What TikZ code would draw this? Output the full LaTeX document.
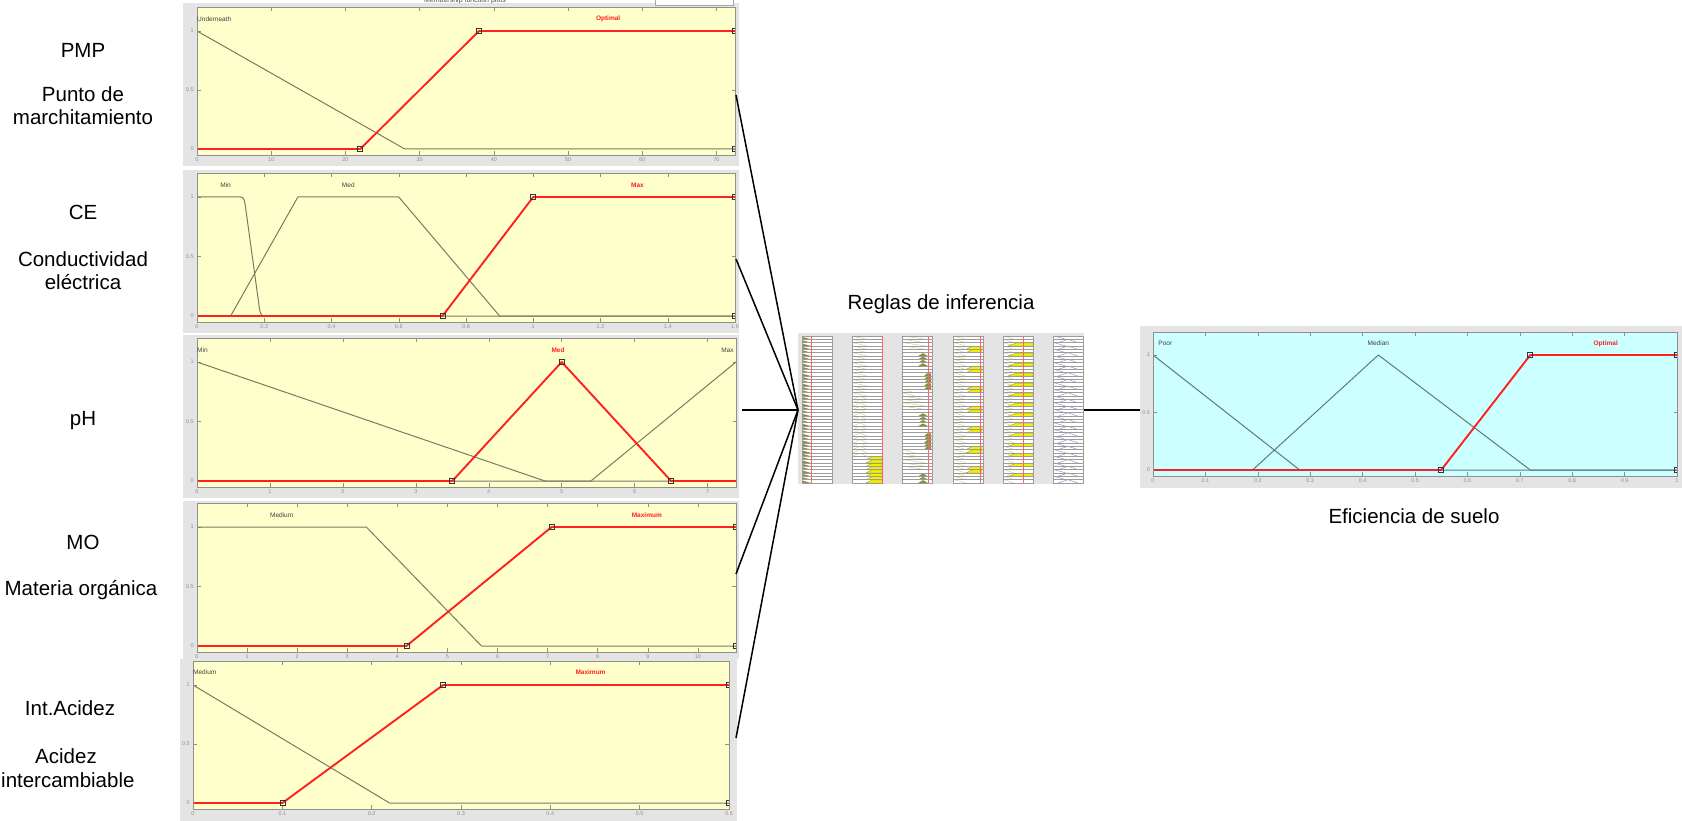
\documentclass[tikz,border=0pt]{standalone}
\usepackage{fontspec}
\setmainfont{Liberation Sans}
\definecolor{figgray}{HTML}{E4E4E4}
\definecolor{axyellow}{HTML}{FFFFCC}
\definecolor{axcyan}{HTML}{CCFFFF}
\definecolor{mfred}{HTML}{FF2020}
\definecolor{tickgray}{HTML}{8F8F8F}
\definecolor{mfgray}{HTML}{7A7A62}
\definecolor{mfgrayc}{HTML}{5F7A7A}
\definecolor{ruleolive}{HTML}{8E8E3A}
\definecolor{rulepale}{HTML}{D2D2A0}
\definecolor{ruleyellow}{HTML}{F5F000}
\definecolor{ruleblue}{HTML}{9A9ACF}
\definecolor{rowgray}{HTML}{9C9C9C}
\tikzset{
  lbl/.style={font=\fontsize{20.5}{24}\selectfont, inner sep=0pt, anchor=base},
  figbg/.style={fill=figgray, draw=none, inner sep=0pt, outer sep=0pt},
  axbox/.style={draw=tickgray, line width=0.5pt},
  tick/.style={draw=tickgray, line width=0.5pt},
  ticklbl/.style={font=\fontsize{5.5}{6}\selectfont, text=tickgray, inner sep=0pt},
  mflbl/.style={font=\fontsize{6.5}{7}\selectfont, inner sep=0pt, text=black!75},
  mfsel/.style={font=\bfseries\fontsize{6.5}{7}\selectfont, inner sep=0pt, text=mfred},
  mfline/.style={draw=mfgray, line width=1pt, line join=round},
  mflinec/.style={draw=mfgrayc, line width=1pt, line join=round},
  mfredline/.style={draw=mfred, line width=1.9pt, line join=round},
  vmark/.style={draw=black!80, line width=0.6pt},
  link/.style={draw=black, line width=1.5pt},
  rowline/.style={draw=rowgray, line width=0.8pt},
  rulered/.style={draw=mfred!70, line width=0.5pt},
}
% axes of one membership-function plot: #1 x max, #2 fill, #3 x ticks, #4 name prefix
\newcommand\mfaxes[4]{%
  \fill[#2] (0,-0.05) rectangle (#1,1.2);
  \foreach \t/\l [count=\i] in {#3}{%
    \draw[tick] (\t,-0.05) -- ++(0pt,3.5pt);
    \draw[tick] (\t,1.2) -- ++(0pt,-3.5pt);
    \node[ticklbl, anchor=north] (#4x\i) at ([yshift=-2.5pt]\t,-0.05) {\l};
  }%
  \foreach \v/\l [count=\i] in {0/0,0.5/0.5,1/1}{%
    \draw[tick] (0,\v) -- ++(3.5pt,0pt);
    \draw[tick] (#1,\v) -- ++(-3.5pt,0pt);
    \node[ticklbl, anchor=east] (#4y\i) at ([xshift=-3pt]0,\v) {\l};
  }%
}
% square vertex marker
\newcommand\vmk[1]{\draw[vmark] ([xshift=-2.5pt,yshift=-2.5pt]#1) rectangle ++(5pt,5pt);}
\begin{document}
\begin{tikzpicture}[x=1pt,y=-1pt]
\useasboundingbox (0,0) rectangle (1682,821);
\fill[white] (0,0) rectangle (1682,821);

% ---------- input variable names ----------
\node[lbl] (nPMP) at (83,58) {PMP};
\node[lbl] (nPMPa) at (83,102) {Punto de};
\node[lbl] (nPMPb) at (83,125) {marchitamiento};
\node[lbl] (nCE) at (83,220) {CE};
\node[lbl] (nCEa) at (83,266) {Conductividad};
\node[lbl] (nCEb) at (83,290) {eléctrica};
\node[lbl] (npH) at (83,425) {pH};
\node[lbl] (nMO) at (83,549) {MO};
\node[lbl] (nMOa) at (81,595) {Materia orgánica};
\node[lbl] (nIA) at (70,715) {Int.Acidez};
\node[lbl] (nIAa) at (66,763) {Acidez};
\node[lbl, anchor=base west] (nIAb) at (1,787) {intercambiable};

% ---------- panel 1: PMP ----------
\node[figbg, minimum width=556pt, minimum height=163pt] (pan1) at (461,84.5) {};
\node[font=\fontsize{7}{8}\selectfont, text=black!70, inner sep=0pt] (pan1t) at (465,1) {Membership function plots};
\draw[draw=black!35, fill=white, line width=0.5pt] (655,-3) rectangle (733,5);
\begin{scope}[shift={(197,149)}, x=7.4207pt, y=118pt]
  \mfaxes{72.5}{axyellow}{0/0,10/10,20/20,30/30,40/40,50/50,60/60,70/70}{pa}
  \begin{scope}
    \clip (0,-0.05) rectangle (72.5,1.2);
    \draw[mfline] (0,1) -- (28,0) -- (72.5,0);
    \draw[mfredline] (0,0) -- (22,0) -- (38,1) -- (72.5,1);
    \vmk{22,0} \vmk{38,1} \vmk{72.5,1} \vmk{72.5,0}
  \end{scope}
  \draw[axbox] (0,-0.05) rectangle (72.5,1.2);
  \node[mflbl, anchor=west] (pa1) at (0,1.1) {Underneath};
  \node[mfsel] (pa2) at (55.4,1.1) {Optimal};
\end{scope}

% ---------- panel 2: CE ----------
\node[figbg, minimum width=556pt, minimum height=163pt] (pan2) at (461,251.5) {};
\begin{scope}[shift={(197,316)}, x=336.25pt, y=119pt]
  \mfaxes{1.6}{axyellow}{0/0,0.2/0.2,0.4/0.4,0.6/0.6,0.8/0.8,1/1,1.2/1.2,1.4/1.4,1.6/1.6}{pb}
  \begin{scope}
    \clip (0,-0.05) rectangle (1.6,1.2);
    \draw[mfline] (0,1) -- (0.13,1) .. controls (0.14,1) and (0.142,0.97) .. (0.145,0.9)
      -- (0.183,0.12) .. controls (0.187,0.02) and (0.19,0) .. (0.2,0) -- (1.6,0);
    \draw[mfline] (0,0) -- (0.1,0) -- (0.3,1) -- (0.6,1) -- (0.9,0) -- (1.6,0);
    \draw[mfredline] (0,0) -- (0.73,0) -- (1,1) -- (1.6,1);
    \vmk{0.73,0} \vmk{1,1} \vmk{1.6,1} \vmk{1.6,0}
  \end{scope}
  \draw[axbox] (0,-0.05) rectangle (1.6,1.2);
  \node[mflbl] (pb1) at (0.085,1.1) {Min};
  \node[mflbl] (pb2) at (0.45,1.1) {Med};
  \node[mfsel] (pb3) at (1.31,1.1) {Max};
\end{scope}

% ---------- panel 3: pH ----------
\node[figbg, minimum width=556pt, minimum height=163pt] (pan3) at (461,416.5) {};
\begin{scope}[shift={(197,481)}, x=72.94pt, y=119pt]
  \mfaxes{7.39}{axyellow}{0/0,1/1,2/2,3/3,4/4,5/5,6/6,7/7}{pc}
  \begin{scope}
    \clip (0,-0.05) rectangle (7.39,1.2);
    \draw[mfline] (0,1) -- (4.77,0) -- (7.39,0);
    \draw[mfline] (0,0) -- (5.4,0) -- (7.39,1);
    \draw[mfredline] (0,0) -- (3.5,0) -- (5,1) -- (6.5,0) -- (7.39,0);
    \vmk{3.5,0} \vmk{5,1} \vmk{6.5,0}
  \end{scope}
  \draw[axbox] (0,-0.05) rectangle (7.39,1.2);
  \node[mflbl, anchor=west] (pc1) at (0,1.1) {Min};
  \node[mfsel] (pc2) at (4.95,1.1) {Med};
  \node[mflbl, anchor=east] (pc3) at (7.36,1.1) {Max};
\end{scope}

% ---------- panel 4: MO ----------
\node[figbg, minimum width=556pt, minimum height=158pt] (pan4) at (461,580) {};
\begin{scope}[shift={(197,646)}, x=50.09pt, y=119pt]
  \mfaxes{10.76}{axyellow}{0/0,1/1,2/2,3/3,4/4,5/5,6/6,7/7,8/8,9/9,10/10}{pd}
  \begin{scope}
    \clip (0,-0.05) rectangle (10.76,1.2);
    \draw[mfline] (0,1) -- (3.38,1) -- (5.68,0) -- (10.76,0);
    \draw[mfredline] (0,0) -- (4.18,0) -- (7.08,1) -- (10.76,1);
    \vmk{4.18,0} \vmk{7.08,1} \vmk{10.76,1} \vmk{10.76,0}
  \end{scope}
  \draw[axbox] (0,-0.05) rectangle (10.76,1.2);
  \node[mflbl] (pd1) at (1.69,1.1) {Medium};
  \node[mfsel] (pd2) at (8.98,1.1) {Maximum};
\end{scope}

% ---------- panel 5: Int.Acidez ----------
\node[figbg, minimum width=557pt, minimum height=162pt] (pan5) at (458.5,740) {};
\begin{scope}[shift={(193,803)}, x=893.3pt, y=118pt]
  \mfaxes{0.6}{axyellow}{0/0,0.1/0.1,0.2/0.2,0.3/0.3,0.4/0.4,0.5/0.5,0.6/0.6}{pe}
  \begin{scope}
    \clip (0,-0.05) rectangle (0.6,1.2);
    \draw[mfline] (0,1) -- (0.22,0) -- (0.6,0);
    \draw[mfredline] (0,0) -- (0.1,0) -- (0.28,1) -- (0.6,1);
    \vmk{0.1,0} \vmk{0.28,1} \vmk{0.6,1} \vmk{0.6,0}
  \end{scope}
  \draw[axbox] (0,-0.05) rectangle (0.6,1.2);
  \node[mflbl, anchor=west] (pe1) at (0,1.11) {Medium};
  \node[mfsel] (pe2) at (0.445,1.11) {Maximum};
\end{scope}

% ---------- rule viewer ----------
\node[figbg, minimum width=286pt, minimum height=151pt] (rules) at (941,408.5) {};
\foreach \cx in {802,852,902,953,1003,1053}{
  \fill[white] (\cx,336) rectangle ++(30,147);
}
\foreach \r in {0,...,43}{
  \pgfmathsetmacro\yt{336+\r*3.341}
  \pgfmathsetmacro\yb{\yt+3.341}
  \pgfmathtruncatemacro\mthree{mod(\r,3)}
  \pgfmathtruncatemacro\msix{mod(\r,6)}
  \pgfmathtruncatemacro\meight{mod(\r,18)}
  % input 1
  \fill[ruleolive] (802,\yt+0.8) -- (811,\yb) -- (802,\yb) -- cycle;
  % input 2
  \ifnum\r<18 \draw[rulepale, line width=0.5pt] (853,\yt) -- (867,\yb); \fi
  \ifnum\r>17 \ifnum\r<36 \draw[rulepale, line width=0.5pt] (853,\yb) -- (860,\yt) -- (867,\yb); \fi\fi
  \ifnum\r>35 \fill[ruleyellow, draw=ruleolive, line width=0.3pt] (866,\yb) -- (872,\yt+0.4) -- (882,\yt+0.4) -- (882,\yb) -- cycle; \fi
  % input 3
  \ifnum\meight<4 \draw[rulepale, line width=0.5pt] (903,\yt) -- (926,\yb); \fi
  \ifnum\meight>4 \ifnum\meight<9 \fill[ruleolive] (918,\yb) -- (923,\yt+0.5) -- (928,\yb) -- cycle; \fi\fi
  \ifnum\meight>10 \ifnum\meight<16 \fill[ruleolive] (924,\yb) -- (927,\yt+0.5) -- (931,\yt+0.5) -- (931,\yb) -- cycle; \fi\fi
  \ifnum\meight>15 \draw[rulepale, line width=0.5pt] (903,\yt) -- (915,\yb); \fi
  % input 4
  \draw[rulepale, line width=0.5pt] (954,\yt) -- (966,\yb);
  \ifnum\msix>2 \ifnum\msix<5 \fill[ruleyellow, draw=ruleolive, line width=0.3pt] (966,\yb) -- (972,\yt+0.4) -- (982,\yt+0.4) -- (982,\yb) -- cycle; \fi\fi
  % input 5
  \draw[rulepale, line width=0.5pt] (1004,\yt) -- (1014,\yb);
  \ifnum\mthree=2 \fill[ruleyellow, draw=ruleolive, line width=0.3pt] (1008,\yb) -- (1016,\yt+0.4) -- (1033,\yt+0.4) -- (1033,\yb) -- cycle; \fi
  % output
  \ifodd\r
    \draw[ruleblue, line width=0.5pt] (1058,\yb) -- (1068,\yt) -- (1078,\yb);
  \else
    \draw[ruleblue, line width=0.5pt] (1054,\yt) -- (1066,\yb);
  \fi
}
\foreach \cx in {802,852,902,953,1003,1053}{
  \foreach \r in {0,...,44}{ \draw[rowline] (\cx,336+\r*3.341) -- ++(30,0); }
  \draw[rowline] (\cx,336) rectangle ++(30,147);
}
\foreach \rx in {811,882,928,980,1023}{ \draw[rulered] (\rx,336) -- (\rx,483); }
\node[lbl] (nRules) at (941,309) {Reglas de inferencia};

% ---------- output: Eficiencia de suelo ----------
\node[figbg, minimum width=542pt, minimum height=162pt] (outp) at (1411,407) {};
\begin{scope}[shift={(1153,470)}, x=524pt, y=115pt]
  \mfaxes{1}{axcyan}{0/0,0.1/0.1,0.2/0.2,0.3/0.3,0.4/0.4,0.5/0.5,0.6/0.6,0.7/0.7,0.8/0.8,0.9/0.9,1/1}{pf}
  \begin{scope}
    \clip (0,-0.05) rectangle (1,1.2);
    \draw[mflinec] (0,1) -- (0.28,0) -- (1,0);
    \draw[mflinec] (0,0) -- (0.19,0) -- (0.43,1) -- (0.72,0) -- (1,0);
    \draw[mfredline] (0,0) -- (0.55,0) -- (0.72,1) -- (1,1);
    \vmk{0.55,0} \vmk{0.72,1} \vmk{1,1} \vmk{1,0}
  \end{scope}
  \draw[axbox] (0,-0.05) rectangle (1,1.2);
  \node[mflbl, anchor=west] (pf1) at (0.01,1.1) {Poor};
  \node[mflbl] (pf2) at (0.43,1.1) {Median};
  \node[mfsel] (pf3) at (0.864,1.1) {Optimal};
\end{scope}
\node[lbl] (nOut) at (1414,523) {Eficiencia de suelo};

% ---------- connectors ----------
\coordinate (o1) at (736,95);
\coordinate (o2) at (736,259);
\coordinate (o3) at (742,410);
\coordinate (o4) at (736,574);
\coordinate (o5) at (736,738);
\coordinate (hub) at (rules.west |- 0,410);
\draw[link] (o1) -- (hub);
\draw[link] (o2) -- (hub);
\draw[link] (o3) -- (hub);
\draw[link] (o4) -- (hub);
\draw[link] (o5) -- (hub);
\draw[link] (rules.east |- hub) -- (outp.west |- hub);
\end{tikzpicture}
\end{document}
